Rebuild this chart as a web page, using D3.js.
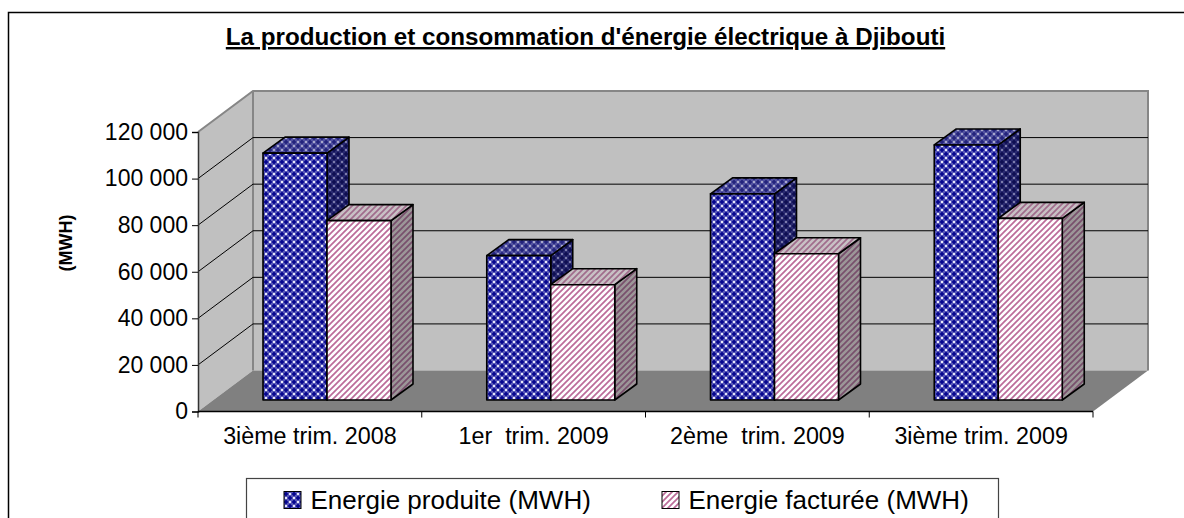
<!DOCTYPE html>
<html><head><meta charset="utf-8">
<script src="https://cdn.jsdelivr.net/npm/d3@7/dist/d3.min.js"></script>
<style>html,body{margin:0;padding:0;background:#fff;overflow:hidden}svg{display:block}text{font-family:"Liberation Sans",Arial,sans-serif;fill:#000}</style>
</head><body><div id="c"></div>
<script>
const categories=["3ième trim. 2008","1er  trim. 2009","2ème  trim. 2009","3ième trim. 2009"];
const seriesNames=["Energie produite (MWH)","Energie facturée (MWH)"];
const produite=[106000,62000,88500,109500];
const facturee=[77000,49500,62800,78000];
const yTicks=[0,20000,40000,60000,80000,100000,120000];
const tickLabels=["0","20 000","40 000","60 000","80 000","100 000","120 000"];
const titleText="La production et consommation d'énergie électrique à Djibouti";
const yTitle="(MWH)";

const W=1184,H=518;
const svg=d3.select("#c").append("svg").attr("width",W).attr("height",H);
const defs=svg.append("defs");
function blue(id,bg,fg,dot){
  const p=defs.append("pattern").attr("id",id).attr("width",8).attr("height",8).attr("patternUnits","userSpaceOnUse");
  p.append("rect").attr("width",8).attr("height",8).attr("fill",bg);
  p.append("path").attr("d","M0 2H4M2 0V4M4 6H8M6 4V8").attr("stroke",fg).attr("stroke-width",1.6);
  [[6,2],[2,6]].forEach(d=>p.append("rect").attr("x",d[0]-1).attr("y",d[1]-1).attr("width",2).attr("height",2).attr("fill",dot));
}
blue("bF","#5858b8","#00008c","#e8e8fa");
blue("bT","#5252a0","#20207a","#a8a8cc");
blue("bS","#2a2a70","#0c0c50","#7c7cac");
function pink(id,bg,fg){
  const p=defs.append("pattern").attr("id",id).attr("width",6).attr("height",6).attr("patternUnits","userSpaceOnUse");
  p.append("rect").attr("width",6).attr("height",6).attr("fill",bg);
  p.append("path").attr("d","M-1.5 1.5L1.5 -1.5M-1.5 7.5L7.5 -1.5M4.5 7.5L7.5 4.5").attr("stroke",fg).attr("stroke-width",1.7);
}
pink("pF","#ffffff","#bc6c9a");
pink("pT","#c8c0c4","#a06c8c");
pink("pS","#9c9698","#78506c");

const x=d3.scaleBand().domain(categories).range([198,1093]);
const y=d3.scaleLinear().domain([0,120000]).range([411.5,132]);
const depth={dx:55,dy:-41};
const barDepth={dx:22,dy:-16};
const barW=64;
const y0=y(0);

const yTop=y(120000), x0=x.range()[0], x1=x.range()[1];
const poly=(pts,fill)=>svg.append("polygon").attr("points",pts.map(p=>p.join(",")).join(" ")).attr("fill",fill);
poly([[x0,yTop],[x0+depth.dx,yTop+depth.dy],[x0+depth.dx,y0+depth.dy],[x0,y0]],"#c0c0c0");
poly([[x0+depth.dx,yTop+depth.dy],[x1+depth.dx,yTop+depth.dy],[x1+depth.dx,y0+depth.dy],[x0+depth.dx,y0+depth.dy]],"#c0c0c0");
poly([[x0,y0],[x0+depth.dx,y0+depth.dy],[x1+depth.dx,y0+depth.dy],[x1,y0]],"#808080");
svg.append("path").attr("d",`M${x0} ${yTop}L${x0+depth.dx} ${yTop+depth.dy}H${x1+depth.dx}V${y0+depth.dy}M${x0+depth.dx} ${yTop+depth.dy}V${y0+depth.dy}`)
  .attr("fill","none").attr("stroke","#868686").attr("stroke-width",2);

yTicks.slice(1,-1).forEach(v=>{
  svg.append("path").attr("d",`M${x0} ${y(v)}L${x0+depth.dx} ${y(v)+depth.dy}H${x1+depth.dx}`)
    .attr("fill","none").attr("stroke","#000").attr("stroke-width",1);
});

const yAxis=d3.axisLeft(y).tickValues(yTicks).tickFormat((d,i)=>tickLabels[i]).tickSize(6).tickPadding(4);
const gy=svg.append("g").attr("transform",`translate(${x0},0)`).call(yAxis);
gy.selectAll("text").style("font-size","23px").style("font-family",'"Liberation Sans"');
gy.select(".domain").attr("stroke","#333").attr("stroke-width",1.5);
const gx=svg.append("g").attr("transform",`translate(0,${y0})`).call(d3.axisBottom(x).tickSize(0).tickPadding(16));
gx.selectAll("text").style("font-size","23.3px").style("font-family",'"Liberation Sans"').style("white-space","pre");
gx.select(".domain").attr("stroke","#000").attr("stroke-width",1.5).attr("d",`M${x0} 0H${x1}`);
const edges=[...categories.map(c=>x(c)),x1];
svg.append("g").selectAll("line").data(edges).join("line").attr("x1",d=>d).attr("x2",d=>d).attr("y1",y0).attr("y2",y0+6).attr("stroke","#000");

function bar(cat,val,k,front,topF,side){
  const l=x(cat)+65+k*barW, r=l+barW, b=y0-11.5, t=b-(y0-y(val));
  const d=barDepth;
  const g=svg.append("g");
  const st=(s)=>s.attr("stroke","#000").attr("stroke-width",1.6).attr("stroke-linejoin","round");
  st(g.append("polygon").attr("points",`${r},${t} ${r+d.dx},${t+d.dy} ${r+d.dx},${b+d.dy} ${r},${b}`).attr("fill",`url(#${side})`));
  st(g.append("polygon").attr("points",`${l},${t} ${l+d.dx},${t+d.dy} ${r+d.dx},${t+d.dy} ${r},${t}`).attr("fill",`url(#${topF})`));
  st(g.append("rect").attr("x",l).attr("y",t).attr("width",barW).attr("height",b-t).attr("fill",`url(#${front})`));
}
categories.forEach((c,i)=>{
  bar(c,produite[i],0,"bF","bT","bS");
  bar(c,facturee[i],1,"pF","pT","pS");
});

svg.append("path").attr("d","M8.5 530V12.5H1190").attr("fill","none").attr("stroke","#000").attr("stroke-width",1.5);
svg.append("text").attr("x",585.5).attr("y",45).attr("text-anchor","middle").attr("font-size",24.2).attr("font-weight","bold").attr("text-decoration","underline").text(titleText);
svg.append("text").attr("transform","translate(72,243) rotate(-90)").attr("text-anchor","middle").attr("font-size",18).attr("font-weight","bold").text(yTitle);

svg.append("rect").attr("x",246.5).attr("y",478.5).attr("width",752).attr("height",60).attr("fill","#fff").attr("stroke","#444").attr("stroke-width",1.2);
const lg=[{n:seriesNames[0],f:"bF",x:284},{n:seriesNames[1],f:"pF",x:662}];
lg.forEach(d=>{
  svg.append("rect").attr("x",d.x).attr("y",491.5).attr("width",17).attr("height",17).attr("fill",`url(#${d.f})`).attr("stroke","#000").attr("stroke-width",1);
  svg.append("text").attr("x",d.x+26.5).attr("y",509).attr("font-size",26).text(d.n);
});
</script></body></html>
